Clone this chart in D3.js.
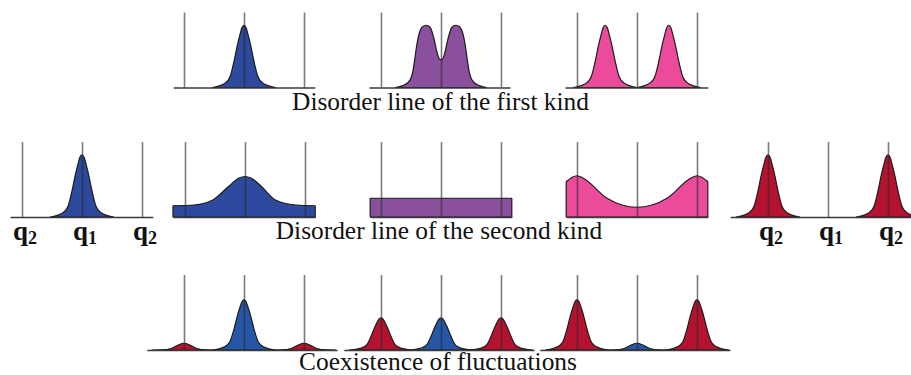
<!DOCTYPE html>
<html>
<head>
<meta charset="utf-8">
<script src="https://cdn.jsdelivr.net/npm/d3@7"></script>
<style>
  body { margin: 0; background: #fff; }
  text { font-family: "Liberation Serif", "Times New Roman", serif; fill: #111; }
</style>
</head>
<body>
<svg id="chart" width="911" height="375"></svg>
<script>
// ---- data -------------------------------------------------------------
// Order-parameter values marked in every panel (q2, q1, q2)
const markPositions = [-1, 0, 1];
const markLabels = [["q", "2"], ["q", "1"], ["q", "2"]];

// Shape of one sharp fluctuation peak: [offset in q units, fraction of peak height]
const peakProfile = [
  [0, 1], [0.035, 0.96], [0.075, 0.82], [0.115, 0.66], [0.155, 0.47], [0.195, 0.3],
  [0.23, 0.18], [0.267, 0.115], [0.317, 0.07], [0.4, 0.03], [0.53, 0]
];

// Pure phases shown at the ends of the middle row
const orderedPeaks = [{ q: 0, h: 0.83, kind: "blue" }];
const modulatedPeaks = [{ q: -1, h: 0.83, kind: "red" }, { q: 1, h: 0.83, kind: "red" }];

// Disorder line of the first kind: peaks split continuously
const firstKindPeaks = [
  [{ q: 0, h: 0.83, kind: "blue" }],
  [],
  [{ q: -0.53, h: 0.83, kind: "pink" }, { q: 0.53, h: 0.83, kind: "pink" }]
];
const firstKindDoublePeak = [
  [-0.76, 0], [-0.64, 0.025], [-0.56, 0.06], [-0.51, 0.11], [-0.475, 0.19],
  [-0.44, 0.36], [-0.405, 0.56], [-0.37, 0.7], [-0.31, 0.81], [-0.245, 0.83],
  [-0.18, 0.8], [-0.12, 0.66], [-0.06, 0.45], [-0.025, 0.38], [0, 0.37],
  [0.025, 0.38], [0.06, 0.45], [0.12, 0.66], [0.18, 0.8],
  [0.245, 0.83], [0.31, 0.81], [0.37, 0.7], [0.405, 0.56], [0.44, 0.36],
  [0.475, 0.19], [0.51, 0.11], [0.56, 0.06], [0.64, 0.025], [0.76, 0]
];

// Disorder line of the second kind: broad distributions
const secondKindBroad = [
  [-1.2, 0.15], [-0.85, 0.16], [-0.53, 0.23], [-0.27, 0.41], [-0.1, 0.52],
  [0, 0.54], [0.1, 0.52], [0.27, 0.41], [0.5, 0.23], [0.85, 0.16], [1.17, 0.15]
];
const secondKindFlat = [[-1.18, 0.25], [1.18, 0.25]];
const secondKindBowl = [
  [-1.18, 0.47], [-1.08, 0.53], [-1, 0.55], [-0.9, 0.52], [-0.5, 0.25],
  [-0.25, 0.16], [0, 0.13], [0.25, 0.16], [0.5, 0.25], [0.9, 0.52],
  [1, 0.55], [1.08, 0.53], [1.18, 0.47]
];

// Coexistence of fluctuations: weights shift between q1 and q2
const coexistPeaks = [
  [{ q: -1, h: 0.09, kind: "red" }, { q: 0, h: 0.67, kind: "blue2" }, { q: 1, h: 0.09, kind: "red" }],
  [{ q: -1, h: 0.43, kind: "red" }, { q: 0, h: 0.43, kind: "blue2" }, { q: 1, h: 0.43, kind: "red" }],
  [{ q: -1, h: 0.67, kind: "red" }, { q: 0, h: 0.09, kind: "blue2" }, { q: 1, h: 0.67, kind: "red" }]
];

const captions = [
  "Disorder line of the first kind",
  "Disorder line of the second kind",
  "Coexistence of fluctuations"
];

// ---- styles & layout --------------------------------------------------
const fills = {
  blue: "#2d4a9e", blue2: "#2656a7", purple: "#8a4f9d",
  pink: "#ec4a9a", red: "#b5122f"
};
const unit = 60;        // pixels per unit of q
const markHeight = 75;  // height of the vertical marker lines

const svg = d3.select("#chart");

// Turn a list of peaks into area outlines using the shared profile
function peakCurves(peaks) {
  return peaks.map(p => {
    const left = peakProfile.slice(1).reverse().map(([d, f]) => [p.q - d, p.h * f]);
    const right = peakProfile.map(([d, f]) => [p.q + d, p.h * f]);
    return { kind: p.kind, points: left.concat(right) };
  });
}

function drawPanel(cx, baseline, extent, curves, labels) {
  const g = svg.append("g");
  const x = d3.scaleLinear().domain(extent)
    .range([cx + extent[0] * unit, cx + extent[1] * unit]);
  const y = d3.scaleLinear().domain([0, 1]).range([baseline, baseline - markHeight]);

  const area = d3.area()
    .x(d => x(d[0])).y0(baseline).y1(d => y(d[1]))
    .curve(d3.curveMonotoneX);

  curves.forEach(c => {
    g.append("path")
      .datum(c.points)
      .attr("d", area)
      .attr("fill", fills[c.kind])
      .attr("stroke", "#1c1c1c")
      .attr("stroke-width", 1.2)
      .attr("stroke-linejoin", "round");
  });

  const axis = d3.axisBottom(x)
    .tickValues(markPositions)
    .tickSizeInner(-markHeight)
    .tickSizeOuter(0)
    .tickFormat("");

  const ax = g.append("g")
    .attr("transform", `translate(0,${baseline})`)
    .call(axis);
  ax.select(".domain").attr("stroke", "#3a3a3a").attr("stroke-width", 1.5);
  ax.selectAll(".tick line")
    .attr("stroke", "#2a2a2a")
    .attr("stroke-opacity", 0.62)
    .attr("stroke-width", 1.6);

  if (labels) {
    markPositions.forEach((q, i) => {
      const t = g.append("text")
        .attr("x", x(q) + 3)
        .attr("y", baseline + 23)
        .attr("text-anchor", "middle")
        .attr("font-weight", "bold")
        .attr("font-size", 27);
      t.append("tspan").text(labels[i][0]);
      t.append("tspan")
        .attr("font-size", 18)
        .attr("dy", 4)
        .text(labels[i][1]);
    });
  }
}

const middleCenters = [244, 441, 637];

// Row 1
const row1Base = 87;
drawPanel(middleCenters[0], row1Base + 0.5, [-1.18, 1.18], peakCurves(firstKindPeaks[0]));
drawPanel(middleCenters[1], row1Base + 0.5, [-1.2, 1.15],
  [{ kind: "purple", points: firstKindDoublePeak }]);
drawPanel(middleCenters[2], row1Base + 0.5, [-1.2, 1.18], peakCurves(firstKindPeaks[2]));

// Row 2
const row2Base = 217;
drawPanel(82, row2Base, [-1.2, 1.18], peakCurves(orderedPeaks), markLabels);
drawPanel(middleCenters[0] + 1, row2Base, [-1.2, 1.17], [{ kind: "blue", points: secondKindBroad }]);
drawPanel(middleCenters[1], row2Base, [-1.18, 1.18], [{ kind: "purple", points: secondKindFlat }]);
drawPanel(middleCenters[2], row2Base, [-1.18, 1.18], [{ kind: "pink", points: secondKindBowl }]);
drawPanel(828, row2Base, [-1.63, 1.4], peakCurves(modulatedPeaks), markLabels);

// Row 3
const row3Base = 350;
coexistPeaks.forEach((peaks, i) => {
  drawPanel(middleCenters[i], row3Base, [-1.62, 1.55], peakCurves(peaks));
});

// Row captions
const captionY = [110, 239, 370];
const captionX = [440.5, 439, 438];
captions.forEach((c, i) => {
  svg.append("text")
    .attr("x", captionX[i])
    .attr("y", captionY[i])
    .attr("text-anchor", "middle")
    .attr("font-size", 25.4)
    .text(c);
});
</script>
</body>
</html>
